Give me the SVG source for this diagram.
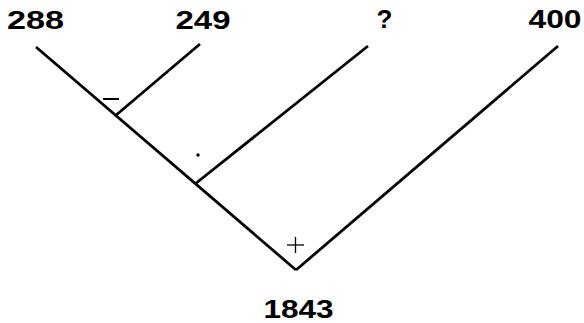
<svg xmlns="http://www.w3.org/2000/svg" width="584" height="323" viewBox="0 0 584 323">
<style>
.lbl{font-family:"Liberation Sans",Arial,sans-serif;font-weight:bold;font-size:26px;fill:#000;text-anchor:middle}
.edge{stroke:#000;stroke-width:2.8;fill:none;stroke-linecap:butt}
.op{stroke:#000;fill:none}
</style>
<rect width="584" height="323" fill="#fff"/>
<g id="connectors">
<line class="edge" x1="36" y1="47" x2="296" y2="270"/>
<line class="edge" x1="296" y1="270" x2="558" y2="46"/>
<line class="edge" x1="200" y1="44" x2="115" y2="116"/>
<line class="edge" x1="368" y1="46" x2="195" y2="184"/>
</g>
<g id="n288"><text class="lbl" x="35.5" y="29" textLength="57" lengthAdjust="spacingAndGlyphs">288</text></g>
<g id="n249"><text class="lbl" x="203" y="29" textLength="55" lengthAdjust="spacingAndGlyphs">249</text></g>
<g id="nq"><text class="lbl" x="384.5" y="28">?</text></g>
<g id="n400"><text class="lbl" x="555" y="28" textLength="53" lengthAdjust="spacingAndGlyphs">400</text></g>
<g id="n1843"><text class="lbl" x="298.5" y="318" textLength="70" lengthAdjust="spacingAndGlyphs">1843</text></g>
<g id="op-minus"><line class="op" stroke-width="2" x1="103" y1="99" x2="119" y2="99"/></g>
<g id="op-dot"><circle cx="198" cy="155" r="1.7" fill="#000"/></g>
<g id="op-plus"><line class="op" stroke-width="1.3" x1="287" y1="245" x2="304" y2="245"/><line class="op" stroke-width="1.3" x1="295.5" y1="237" x2="295.5" y2="253"/></g>
</svg>
